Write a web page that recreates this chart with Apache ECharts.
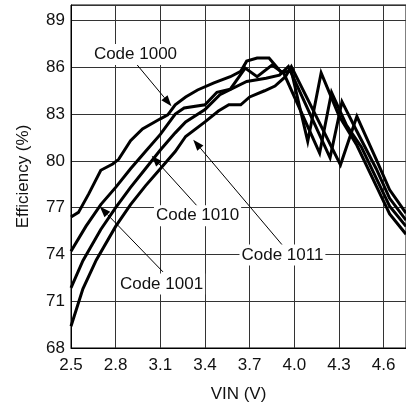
<!DOCTYPE html>
<html>
<head>
<meta charset="utf-8">
<script src="https://cdn.jsdelivr.net/npm/echarts@6/dist/echarts.min.js"></script>
<style>html,body{margin:0;padding:0;background:#fff}#c{width:406px;height:408px}</style>
</head>
<body>
<div id="c"></div>
<script>
// ---- data ----
const vinTicks = [2.5, 2.8, 3.1, 3.4, 3.7, 4.0, 4.3, 4.6];
const effTicks = [68, 71, 74, 77, 80, 83, 86, 89];

// Code 1000
const vin1000 = [2.5, 2.55, 2.62, 2.7, 2.78, 2.82, 2.9, 2.98, 3.1, 3.15, 3.2, 3.27, 3.35, 3.46, 3.57, 3.64, 3.68, 3.75, 3.83, 3.91, 3.98, 4.09, 4.18, 4.3, 4.42, 4.55, 4.64, 4.75];
const eff1000 = [76.4, 76.7, 77.9, 79.4, 79.8, 80.1, 81.3, 82.05, 82.7, 82.95, 83.6, 84.1, 84.55, 85.0, 85.4, 85.75, 86.4, 86.6, 86.6, 85.7, 85.75, 81.25, 85.64, 82.9, 81.0, 78.4, 76.6, 75.3];
// Code 1001
const vin1001 = [2.5, 2.6, 2.7, 2.8, 2.9, 3.0, 3.1, 3.2, 3.26, 3.4, 3.48, 3.57, 3.67, 3.75, 3.85, 3.93, 4.17, 4.25, 4.35, 4.45, 4.55, 4.64, 4.75];
const eff1001 = [74.2, 75.8, 77.2, 78.3, 79.5, 80.6, 81.7, 83.0, 83.4, 83.6, 84.4, 84.6, 85.95, 85.4, 86.15, 85.6, 80.5, 84.4, 82.3, 80.9, 78.9, 77.1, 75.8];
// Code 1010
const vin1010 = [2.5, 2.58, 2.7, 2.8, 2.9, 3.0, 3.1, 3.2, 3.27, 3.4, 3.5, 3.68, 3.81, 3.9, 3.96, 4.24, 4.32, 4.42, 4.55, 4.64, 4.75];
const eff1010 = [71.85, 73.6, 75.6, 77.0, 78.3, 79.5, 80.7, 81.8, 82.5, 83.3, 84.25, 85.1, 85.3, 85.5, 86.05, 80.2, 83.8, 81.9, 79.5, 77.6, 76.2];
// Code 1011
const vin1011 = [2.5, 2.58, 2.67, 2.8, 2.9, 3.0, 3.1, 3.2, 3.27, 3.4, 3.49, 3.56, 3.64, 3.7, 3.8, 3.87, 3.94, 3.98, 4.31, 4.42, 4.55, 4.64, 4.75];
const eff1011 = [69.4, 71.8, 73.65, 75.8, 77.2, 78.4, 79.5, 80.6, 81.57, 82.5, 83.2, 83.6, 83.6, 84.1, 84.5, 84.8, 85.4, 86.05, 79.75, 82.86, 80.1, 78.15, 76.65];

const seriesNames = ['Code 1000', 'Code 1001', 'Code 1010', 'Code 1011'];
const seriesVin = [vin1000, vin1001, vin1010, vin1011];
const seriesEff = [eff1000, eff1001, eff1010, eff1011];

// ---- chart ----
const FONT = '"Liberation Sans", Arial, sans-serif';
const chart = echarts.init(document.getElementById('c'), null, {renderer: 'canvas'});

const series = seriesNames.map((n, i) => ({
  name: n,
  type: 'line',
  data: seriesVin[i].map((v, k) => [v, seriesEff[i][k]]),
  showSymbol: false,
  symbol: 'none',
  lineStyle: {color: '#000', width: 3, join: 'miter', miterLimit: 6},
  silent: true,
  animation: false,
  z: 3
}));

chart.setOption({
  animation: false,
  backgroundColor: '#fff',
  grid: {left: 71, top: 5, right: -1, bottom: 60, show: true, borderColor: '#000', borderWidth: 1, backgroundColor: 'transparent'},
  xAxis: {
    type: 'value', min: vinTicks[0], max: 4.75, interval: 0.3,
    name: 'VIN (V)', nameLocation: 'middle', nameGap: 38,
    nameTextStyle: {fontFamily: FONT, fontSize: 17, color: '#111'},
    axisLine: {show: true, lineStyle: {color: '#000', width: 1}},
    axisTick: {show: false},
    splitLine: {show: true, lineStyle: {color: '#333', width: 1}},
    axisLabel: {
      fontFamily: FONT, fontSize: 17, color: '#111', margin: 9, showMaxLabel: false,
      formatter: v => vinTicks.some(t => Math.abs(t - v) < 1e-6) ? v.toFixed(1) : ''
    }
  },
  yAxis: {
    type: 'value', min: effTicks[0], max: 90, interval: 3,
    name: 'Efficiency (%)', nameLocation: 'middle', nameGap: 39, nameRotate: 90,
    nameTextStyle: {fontFamily: FONT, fontSize: 17, color: '#111'},
    axisLine: {show: true, lineStyle: {color: '#000', width: 1}},
    axisTick: {show: false},
    splitLine: {show: true, lineStyle: {color: '#333', width: 1}},
    axisLabel: {
      fontFamily: FONT, fontSize: 17, color: '#111', margin: 6, showMaxLabel: false,
      formatter: v => effTicks.indexOf(Math.round(v)) >= 0 && Math.abs(v - Math.round(v)) < 1e-6 ? String(Math.round(v)) : ''
    }
  },
  series: series
});

// ---- annotations (positions given in data coordinates) ----
const annotations = [
  {text: 'Code 1000', at: [2.933, 86.82], from: [2.937, 86.24], to: [3.175, 83.51]},
  {text: 'Code 1010', at: [3.35, 76.48], from: [3.346, 77.12], to: [3.042, 80.33]},
  {text: 'Code 1011', at: [3.92, 73.97], from: [3.924, 74.55], to: [3.321, 81.36]},
  {text: 'Code 1001', at: [3.108, 72.11], from: [3.118, 72.88], to: [2.693, 77.07]}
];

const g = [];
annotations.forEach(a => {
  const p0 = chart.convertToPixel({gridIndex: 0}, a.from);
  const p1 = chart.convertToPixel({gridIndex: 0}, a.to);
  const pc = chart.convertToPixel({gridIndex: 0}, a.at);
  const dx = p1[0] - p0[0], dy = p1[1] - p0[1];
  const L = Math.sqrt(dx * dx + dy * dy);
  const ux = dx / L, uy = dy / L;
  const hl = 11, hw = 4;
  const bx = p1[0] - ux * hl, by = p1[1] - uy * hl;
  g.push({type: 'line', z: 10, shape: {x1: p0[0], y1: p0[1], x2: bx, y2: by}, style: {stroke: '#000', lineWidth: 1}});
  g.push({type: 'polygon', z: 10, shape: {points: [[p1[0], p1[1]], [bx - uy * hw, by + ux * hw], [bx + uy * hw, by - ux * hw]]}, style: {fill: '#000'}});
  g.push({type: 'text', z: 11, x: pc[0], y: pc[1], style: {
    text: a.text, font: '17px ' + FONT, fill: '#111', align: 'center', verticalAlign: 'middle',
    backgroundColor: '#fff', padding: [2, 2]
  }});
});
chart.setOption({graphic: g});
</script>
</body>
</html>
